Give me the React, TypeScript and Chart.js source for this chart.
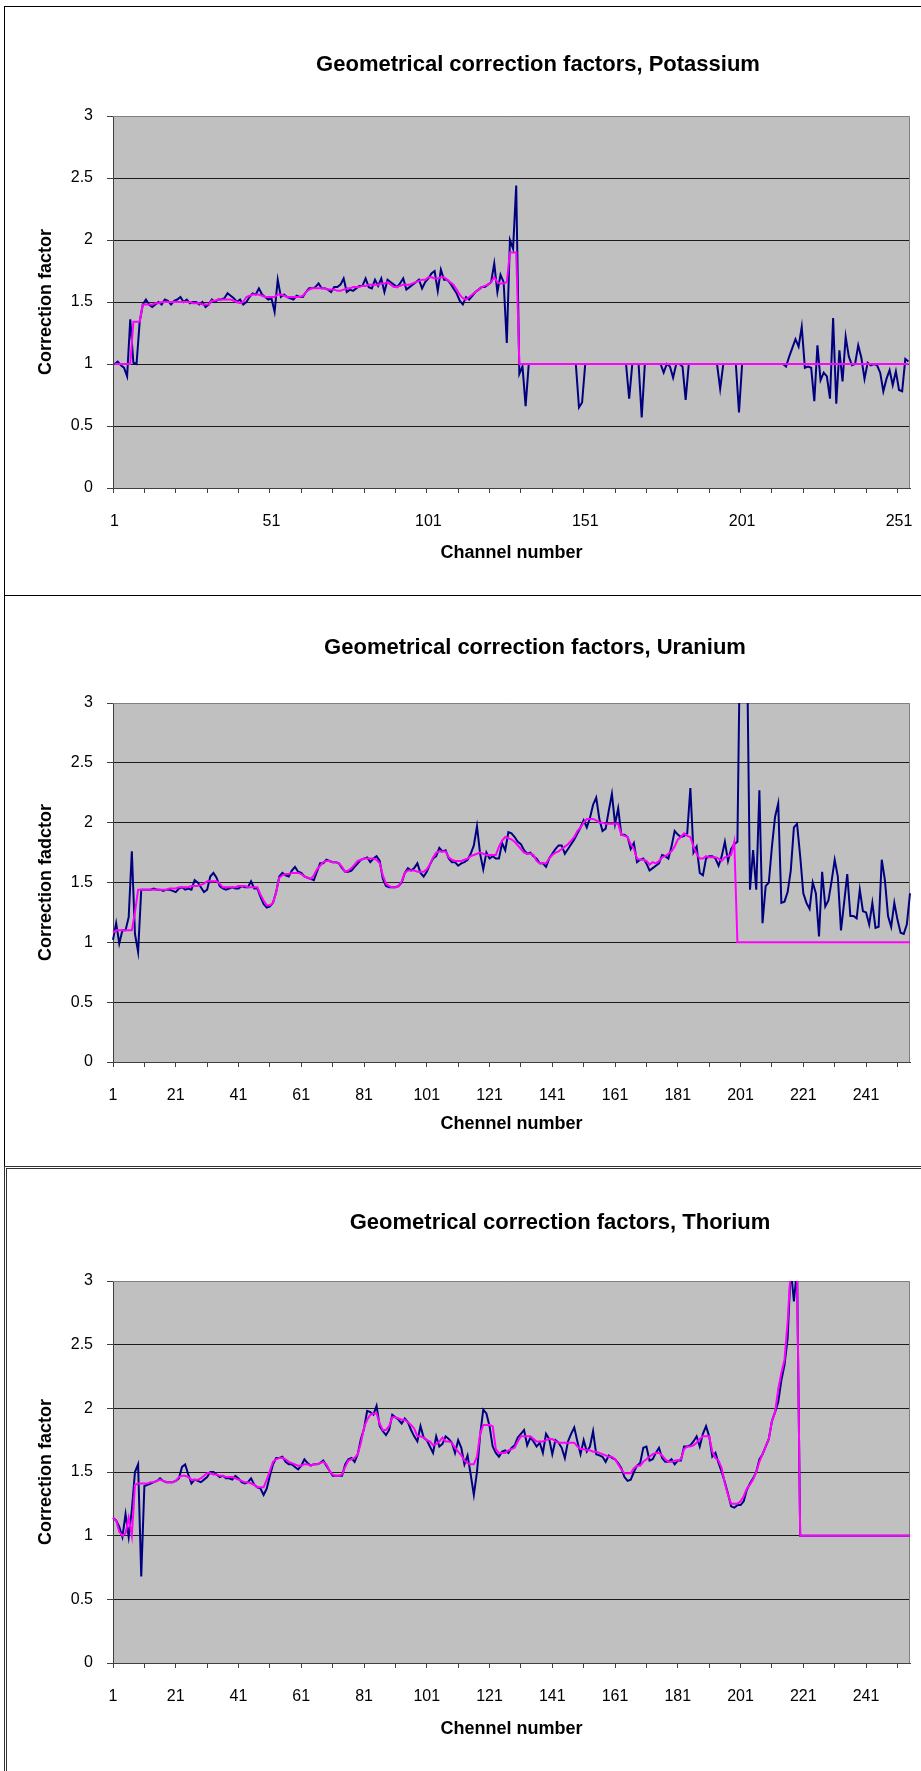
import React, { useEffect, useRef } from "react";
import { Chart, registerables } from "chart.js";

Chart.register(...registerables);

const FONT = "'Liberation Sans', Arial, sans-serif";

// ---- Potassium: measured factors and smoothed curve, channels 1..254 ----
const potassiumMeasured = [
  1.00, 1.02, 0.99, 0.97, 0.90, 1.36, 1.01, 1.00, 1.34, 1.48,
  1.52, 1.48, 1.46, 1.48, 1.50, 1.48, 1.52, 1.51, 1.48, 1.51,
  1.52, 1.54, 1.50, 1.52, 1.49, 1.50, 1.50, 1.48, 1.50, 1.46,
  1.48, 1.52, 1.50, 1.52, 1.52, 1.53, 1.57, 1.55, 1.53, 1.50,
  1.52, 1.48, 1.50, 1.54, 1.57, 1.56, 1.61, 1.56, 1.54, 1.52,
  1.53, 1.42, 1.68, 1.54, 1.56, 1.54, 1.53, 1.52, 1.55, 1.54,
  1.54, 1.58, 1.61, 1.61, 1.62, 1.65, 1.61, 1.61, 1.60, 1.58,
  1.62, 1.62, 1.64, 1.69, 1.58, 1.60, 1.59, 1.61, 1.63, 1.63,
  1.69, 1.62, 1.61, 1.68, 1.63, 1.69, 1.58, 1.68, 1.66, 1.64,
  1.62, 1.65, 1.69, 1.60, 1.62, 1.64, 1.66, 1.68, 1.61, 1.66,
  1.69, 1.73, 1.75, 1.59, 1.76, 1.68, 1.68, 1.65, 1.61, 1.57,
  1.51, 1.48, 1.54, 1.52, 1.55, 1.58, 1.60, 1.62, 1.62, 1.64,
  1.66, 1.81, 1.58, 1.72, 1.66, 1.17, 2.00, 1.93, 2.44, 0.92,
  0.98, 0.66, 1, 1, 1, 1, 1, 1, 1, 1,
  1, 1, 1, 1, 1, 1, 1, 1, 0.65, 0.69,
  1, 1, 1, 1, 1, 1, 1, 1, 1, 1,
  1, 1, 1, 1, 0.72, 1, 1, 1, 0.57, 1,
  1, 1, 1, 1, 1, 0.93, 1, 0.98, 0.89, 1,
  1, 0.98, 0.71, 1, 1, 1, 1, 1, 1, 1,
  1, 1, 1, 0.80, 1, 1, 1, 1, 1, 0.61,
  1, 1, 1, 1, 1, 1, 1, 1, 1, 1,
  1, 1, 1, 1, 0.98, 1.06, 1.13, 1.20, 1.14, 1.30,
  0.97, 0.98, 0.97, 0.70, 1.15, 0.87, 0.93, 0.90, 0.72, 1.37,
  0.68, 1.11, 0.86, 1.22, 1.06, 0.99, 1.00, 1.15, 1.05, 0.88,
  1.01, 0.99, 1.00, 0.99, 0.93, 0.78, 0.88, 0.95, 0.83, 0.94,
  0.79, 0.78, 1.04, 1.02,
];

const potassiumSmoothed = [
  1, 1, 1, 1, 1, 1, 1.34, 1.34, 1.34, 1.48,
  1.48, 1.48, 1.48, 1.49, 1.49, 1.50, 1.50, 1.50, 1.50, 1.50,
  1.50, 1.50, 1.50, 1.50, 1.50, 1.49, 1.49, 1.49, 1.48, 1.48,
  1.48, 1.51, 1.51, 1.52, 1.52, 1.52, 1.52, 1.52, 1.51, 1.50,
  1.49, 1.50, 1.54, 1.55, 1.56, 1.56, 1.56, 1.55, 1.54, 1.54,
  1.54, 1.54, 1.56, 1.56, 1.55, 1.54, 1.54, 1.54, 1.54, 1.54,
  1.55, 1.58, 1.60, 1.61, 1.61, 1.61, 1.61, 1.61, 1.60, 1.60,
  1.60, 1.59, 1.59, 1.60, 1.61, 1.61, 1.62, 1.62, 1.62, 1.63,
  1.63, 1.64, 1.64, 1.64, 1.64, 1.65, 1.65, 1.66, 1.64, 1.62,
  1.62, 1.63, 1.64, 1.64, 1.64, 1.65, 1.66, 1.67, 1.68, 1.68,
  1.70, 1.70, 1.69, 1.69, 1.70, 1.70, 1.68, 1.66, 1.64, 1.60,
  1.56, 1.53, 1.52, 1.54, 1.56, 1.58, 1.60, 1.62, 1.63, 1.64,
  1.66, 1.70, 1.66, 1.65, 1.65, 1.66, 1.90, 1.90, 1.90, 1,
  1, 1, 1, 1, 1, 1, 1, 1, 1, 1,
  1, 1, 1, 1, 1, 1, 1, 1, 1, 1,
  1, 1, 1, 1, 1, 1, 1, 1, 1, 1,
  1, 1, 1, 1, 1, 1, 1, 1, 1, 1,
  1, 1, 1, 1, 1, 1, 1, 1, 1, 1,
  1, 1, 1, 1, 1, 1, 1, 1, 1, 1,
  1, 1, 1, 1, 1, 1, 1, 1, 1, 1,
  1, 1, 1, 1, 1, 1, 1, 1, 1, 1,
  1, 1, 1, 1, 1, 1, 1, 1, 1, 1,
  1, 1, 1, 1, 1, 1, 1, 1, 1, 1,
  1, 1, 1, 1, 1, 1, 1, 1, 1, 1,
  1, 1, 1, 1, 1, 1, 1, 1, 1, 1,
  1, 1, 1, 1,
];

// ---- Uranium: channels 1..255 ----
const uraniumMeasured = [
  1.02, 1.16, 0.99, 1.10, 1.10, 1.21, 1.76, 1.07, 0.92, 1.44,
  1.44, 1.44, 1.44, 1.45, 1.44, 1.44, 1.43, 1.44, 1.44, 1.43,
  1.42, 1.45, 1.46, 1.44, 1.45, 1.44, 1.52, 1.50, 1.46, 1.42,
  1.44, 1.55, 1.58, 1.54, 1.47, 1.45, 1.44, 1.45, 1.46, 1.45,
  1.45, 1.47, 1.46, 1.46, 1.51, 1.45, 1.45, 1.38, 1.32, 1.29,
  1.30, 1.33, 1.42, 1.55, 1.58, 1.56, 1.55, 1.60, 1.63, 1.59,
  1.58, 1.55, 1.54, 1.53, 1.52, 1.59, 1.66, 1.66, 1.69, 1.68,
  1.67, 1.67, 1.66, 1.62, 1.59, 1.59, 1.60, 1.63, 1.66, 1.69,
  1.70, 1.71, 1.67, 1.70, 1.72, 1.68, 1.53, 1.47, 1.46, 1.46,
  1.46, 1.47, 1.50, 1.58, 1.62, 1.60, 1.62, 1.66, 1.58, 1.55,
  1.59, 1.65, 1.70, 1.72, 1.79, 1.76, 1.77, 1.70, 1.67, 1.67,
  1.64, 1.66, 1.67, 1.69, 1.74, 1.81, 1.97, 1.74, 1.61, 1.75,
  1.70, 1.72, 1.70, 1.70, 1.83, 1.77, 1.92, 1.91, 1.88, 1.84,
  1.82, 1.77, 1.74, 1.75, 1.72, 1.70, 1.66, 1.66, 1.63, 1.70,
  1.74, 1.78, 1.81, 1.81, 1.74, 1.78, 1.82, 1.86, 1.91, 1.96,
  2.02, 1.96, 2.04, 2.15, 2.21, 2.03, 1.93, 1.95, 2.10, 2.24,
  1.99, 2.12, 1.90, 1.90, 1.88, 1.78, 1.83, 1.67, 1.69, 1.70,
  1.66, 1.60, 1.62, 1.64, 1.66, 1.73, 1.72, 1.70, 1.80, 1.93,
  1.90, 1.88, 1.89, 1.91, 2.29, 1.75, 1.80, 1.58, 1.56, 1.70,
  1.72, 1.72, 1.70, 1.64, 1.72, 1.84, 1.68, 1.78, 1.82, 1.84,
  3.90, 4.20, 3.60, 1.44, 1.77, 1.44, 2.27, 1.16, 1.47, 1.50,
  1.80, 2.05, 2.16, 1.33, 1.34, 1.42, 1.60, 1.96, 1.99, 1.72,
  1.41, 1.33, 1.28, 1.50, 1.41, 1.05, 1.59, 1.30, 1.35, 1.51,
  1.69, 1.55, 1.10, 1.33, 1.57, 1.22, 1.22, 1.20, 1.44, 1.26,
  1.25, 1.15, 1.33, 1.12, 1.13, 1.69, 1.52, 1.22, 1.13, 1.33,
  1.19, 1.08, 1.07, 1.15, 1.41,
];

const uraniumSmoothed = [
  1.08, 1.10, 1.10, 1.10, 1.10, 1.10, 1.10, 1.25, 1.44, 1.44,
  1.44, 1.44, 1.44, 1.44, 1.44, 1.44, 1.44, 1.44, 1.45, 1.45,
  1.45, 1.46, 1.46, 1.46, 1.46, 1.47, 1.47, 1.47, 1.48, 1.49,
  1.51, 1.51, 1.51, 1.51, 1.49, 1.46, 1.46, 1.46, 1.46, 1.46,
  1.47, 1.47, 1.47, 1.46, 1.46, 1.46, 1.46, 1.40, 1.35, 1.31,
  1.31, 1.33, 1.42, 1.54, 1.56, 1.57, 1.57, 1.58, 1.58, 1.58,
  1.57, 1.55, 1.54, 1.53, 1.56, 1.61, 1.64, 1.67, 1.68, 1.68,
  1.67, 1.67, 1.66, 1.63, 1.59, 1.60, 1.62, 1.65, 1.68, 1.69,
  1.70, 1.70, 1.70, 1.70, 1.69, 1.66, 1.56, 1.49, 1.47, 1.46,
  1.46, 1.47, 1.51, 1.58, 1.60, 1.60, 1.60, 1.59, 1.59, 1.59,
  1.61, 1.65, 1.71, 1.75, 1.76, 1.76, 1.76, 1.71, 1.69, 1.68,
  1.68, 1.68, 1.69, 1.70, 1.72, 1.73, 1.74, 1.75, 1.74, 1.73,
  1.73, 1.73, 1.73, 1.80, 1.85, 1.88, 1.87, 1.86, 1.84, 1.81,
  1.78, 1.75, 1.74, 1.74, 1.73, 1.68, 1.66, 1.66, 1.66, 1.70,
  1.73, 1.75, 1.76, 1.78, 1.80, 1.82, 1.85, 1.88, 1.93, 1.96,
  2.00, 2.03, 2.03, 2.03, 2.02, 2.00, 2.00, 1.99, 1.99, 1.99,
  1.99, 1.99, 1.90, 1.89, 1.88, 1.82, 1.78, 1.70, 1.69, 1.69,
  1.68, 1.65, 1.67, 1.66, 1.68, 1.71, 1.72, 1.74, 1.76, 1.80,
  1.86, 1.88, 1.91, 1.89, 1.88, 1.80, 1.74, 1.70, 1.70, 1.72,
  1.71, 1.71, 1.71, 1.70, 1.68, 1.71, 1.72, 1.73, 1.84, 1,
  1, 1, 1, 1, 1, 1, 1, 1, 1, 1,
  1, 1, 1, 1, 1, 1, 1, 1, 1, 1,
  1, 1, 1, 1, 1, 1, 1, 1, 1, 1,
  1, 1, 1, 1, 1, 1, 1, 1, 1, 1,
  1, 1, 1, 1, 1, 1, 1, 1, 1, 1,
  1, 1, 1, 1, 1,
];

// ---- Thorium: channels 1..255 ----
const thoriumMeasured = [
  1.14, 1.12, 1.07, 0.99, 1.17, 0.99, 1.20, 1.50, 1.56, 0.68,
  1.39, 1.40, 1.41, 1.42, 1.43, 1.45, 1.43, 1.42, 1.42, 1.42,
  1.43, 1.45, 1.54, 1.56, 1.48, 1.41, 1.44, 1.43, 1.42, 1.44,
  1.46, 1.50, 1.50, 1.48, 1.46, 1.47, 1.45, 1.45, 1.44, 1.47,
  1.45, 1.42, 1.41, 1.42, 1.45, 1.40, 1.38, 1.37, 1.32, 1.37,
  1.47, 1.56, 1.61, 1.61, 1.62, 1.58, 1.56, 1.56, 1.54, 1.52,
  1.55, 1.60, 1.57, 1.55, 1.56, 1.56, 1.57, 1.59, 1.55, 1.51,
  1.47, 1.47, 1.47, 1.47, 1.56, 1.60, 1.61, 1.58, 1.64, 1.76,
  1.84, 1.98, 1.97, 1.95, 2.02, 1.86, 1.82, 1.79, 1.83, 1.95,
  1.93, 1.91, 1.88, 1.92, 1.89, 1.83, 1.78, 1.74, 1.86, 1.77,
  1.75, 1.70, 1.65, 1.78, 1.70, 1.72, 1.78, 1.76, 1.73, 1.65,
  1.75, 1.69, 1.56, 1.63, 1.48, 1.32, 1.50, 1.79, 1.99, 1.96,
  1.86, 1.70, 1.65, 1.62, 1.66, 1.67, 1.65, 1.69, 1.71, 1.77,
  1.80, 1.83, 1.71, 1.77, 1.74, 1.70, 1.73, 1.65, 1.80, 1.76,
  1.64, 1.75, 1.73, 1.69, 1.61, 1.74, 1.80, 1.85, 1.74, 1.64,
  1.75, 1.66, 1.70, 1.82, 1.64, 1.63, 1.62, 1.58, 1.63, 1.61,
  1.60, 1.57, 1.53, 1.46, 1.43, 1.44, 1.50, 1.55, 1.57, 1.69,
  1.70, 1.59, 1.60, 1.65, 1.69, 1.61, 1.58, 1.58, 1.60, 1.56,
  1.59, 1.59, 1.70, 1.70, 1.71, 1.74, 1.78, 1.70, 1.80, 1.86,
  1.78, 1.62, 1.65, 1.57, 1.50, 1.42, 1.33, 1.23, 1.22, 1.24,
  1.24, 1.27, 1.36, 1.41, 1.45, 1.50, 1.60, 1.64, 1.70, 1.76,
  1.90, 1.97, 2.05, 2.22, 2.34, 2.55, 3.10, 2.84, 3.10, 1,
  1, 1, 1, 1, 1, 1, 1, 1, 1, 1,
  1, 1, 1, 1, 1, 1, 1, 1, 1, 1,
  1, 1, 1, 1, 1, 1, 1, 1, 1, 1,
  1, 1, 1, 1, 1,
];

const thoriumSmoothed = [
  1.14, 1.12, 1.03, 1.00, 1.02, 1.14, 1.00, 1.40, 1.41, 1.41,
  1.41, 1.41, 1.42, 1.42, 1.43, 1.44, 1.43, 1.42, 1.42, 1.42,
  1.43, 1.46, 1.47, 1.47, 1.46, 1.44, 1.44, 1.44, 1.45, 1.47,
  1.49, 1.49, 1.48, 1.48, 1.47, 1.47, 1.46, 1.46, 1.46, 1.45,
  1.44, 1.43, 1.42, 1.42, 1.41, 1.40, 1.38, 1.38, 1.38, 1.44,
  1.51, 1.58, 1.60, 1.61, 1.61, 1.60, 1.58, 1.57, 1.56, 1.55,
  1.55, 1.56, 1.56, 1.55, 1.56, 1.56, 1.57, 1.58, 1.56, 1.51,
  1.48, 1.47, 1.47, 1.48, 1.54, 1.59, 1.60, 1.61, 1.64, 1.73,
  1.85, 1.91, 1.95, 1.96, 1.96, 1.88, 1.83, 1.83, 1.86, 1.93,
  1.93, 1.92, 1.91, 1.91, 1.89, 1.87, 1.84, 1.78, 1.78, 1.77,
  1.75, 1.74, 1.71, 1.72, 1.74, 1.77, 1.74, 1.74, 1.73, 1.69,
  1.66, 1.63, 1.59, 1.57, 1.56, 1.56, 1.62, 1.80, 1.87, 1.87,
  1.87, 1.86, 1.68, 1.65, 1.65, 1.65, 1.67, 1.68, 1.69, 1.74,
  1.78, 1.78, 1.78, 1.78, 1.76, 1.74, 1.74, 1.74, 1.75, 1.76,
  1.76, 1.74, 1.73, 1.73, 1.73, 1.73, 1.73, 1.73, 1.70, 1.68,
  1.68, 1.67, 1.67, 1.66, 1.66, 1.65, 1.64, 1.63, 1.62, 1.62,
  1.60, 1.56, 1.52, 1.49, 1.49, 1.49, 1.53, 1.55, 1.55, 1.58,
  1.60, 1.62, 1.64, 1.65, 1.65, 1.63, 1.60, 1.58, 1.58, 1.59,
  1.59, 1.60, 1.68, 1.70, 1.70, 1.71, 1.73, 1.76, 1.78, 1.78,
  1.78, 1.66, 1.61, 1.59, 1.53, 1.41, 1.32, 1.25, 1.25, 1.25,
  1.27, 1.31, 1.37, 1.40, 1.44, 1.50, 1.58, 1.64, 1.70, 1.76,
  1.90, 1.97, 2.15, 2.28, 2.38, 2.68, 3.10, 3.10, 3.10, 1,
  1, 1, 1, 1, 1, 1, 1, 1, 1, 1,
  1, 1, 1, 1, 1, 1, 1, 1, 1, 1,
  1, 1, 1, 1, 1, 1, 1, 1, 1, 1,
  1, 1, 1, 1, 1,
];

// Axis tick labels
const potassiumTickLabels = ["1", "51", "101", "151", "201", "251"];
const channelTickLabels = ["1", "21", "41", "61", "81", "101", "121", "141", "161", "181", "201", "221", "241"];
const tickMarkEvery = 10;
const yTickValues = [0, 0.5, 1, 1.5, 2, 2.5, 3];
const yTickLabels = ["0", "0.5", "1", "1.5", "2", "2.5", "3"];

const channelsFor = (series: number[]) => series.map((_, i) => String(i + 1));

// Grey plot area with its frame, drawn beneath the data lines
const plotFrame = {
  id: "plotFrame",
  beforeDraw(chart: any) {
    const { ctx, chartArea: a } = chart;
    ctx.save();
    ctx.fillStyle = "#C0C0C0";
    ctx.fillRect(a.left, a.top, a.right - a.left, a.bottom - a.top);
    ctx.restore();
  },
  beforeDatasetsDraw(chart: any) {
    const { ctx, chartArea: a } = chart;
    ctx.save();
    ctx.strokeStyle = "#808080";
    ctx.lineWidth = 1;
    ctx.beginPath();
    ctx.moveTo(a.left, Math.round(a.top) + 0.5);
    ctx.lineTo(Math.round(a.right) - 0.5, Math.round(a.top) + 0.5);
    ctx.lineTo(Math.round(a.right) - 0.5, a.bottom);
    ctx.stroke();
    ctx.restore();
  },
};

// Chart heading
const panelTitle = {
  id: "panelTitle",
  afterDraw(chart: any, _args: any, opts: any) {
    const { ctx } = chart;
    ctx.save();
    ctx.font = `bold ${opts.size}px ${FONT}`;
    ctx.fillStyle = "#000";
    ctx.textAlign = "center";
    ctx.textBaseline = "middle";
    ctx.fillText(opts.text, opts.x, opts.y);
    ctx.restore();
  },
};

type PanelSpec = {
  top: number;
  height: number;
  plotTop: number;
  plotBottom: number;
  title: string;
  titleX: number;
  titleY: number;
  xTitle: string;
  yTitle: string;
  measured: number[];
  smoothed: number[];
  tickLabels: string[];
  betweenTicks: boolean;
};

const panels: PanelSpec[] = [
  {
    top: 0, height: 595, plotTop: 116, plotBottom: 488,
    title: "Geometrical correction factors, Potassium", titleX: 538, titleY: 65,
    xTitle: "Channel number", yTitle: "Correction factor",
    measured: potassiumMeasured, smoothed: potassiumSmoothed,
    tickLabels: potassiumTickLabels, betweenTicks: true,
  },
  {
    top: 595, height: 571, plotTop: 108, plotBottom: 467,
    title: "Geometrical correction factors, Uranium", titleX: 535, titleY: 53,
    xTitle: "Chennel number", yTitle: "Correction fadctor",
    measured: uraniumMeasured, smoothed: uraniumSmoothed,
    tickLabels: channelTickLabels, betweenTicks: false,
  },
  {
    top: 1166, height: 605, plotTop: 115, plotBottom: 497,
    title: "Geometrical correction factors, Thorium", titleX: 560, titleY: 57,
    xTitle: "Chennel number", yTitle: "Correction factor",
    measured: thoriumMeasured, smoothed: thoriumSmoothed,
    tickLabels: channelTickLabels, betweenTicks: false,
  },
];

const WIDTH = 921;

function Panel({ spec }: { spec: PanelSpec }) {
  const ref = useRef<HTMLCanvasElement | null>(null);

  useEffect(() => {
    if (!ref.current) return;
    const labels = channelsFor(spec.measured);
    const markColor = (ctx: any) =>
      ctx.index !== undefined && ctx.index % tickMarkEvery === 0 ? "#404040" : "rgba(0,0,0,0)";

    const chart = new Chart(ref.current, {
      type: "line",
      data: {
        labels,
        datasets: [
          {
            data: spec.smoothed,
            borderColor: "#FF00FF",
            borderWidth: 2,
            pointRadius: 0,
            tension: 0,
            order: 1,
          },
          {
            data: spec.measured,
            borderColor: "#000080",
            borderWidth: 2,
            pointRadius: 0,
            tension: 0,
            order: 2,
          },
        ],
      },
      options: {
        animation: false,
        responsive: false,
        devicePixelRatio: 1,
        events: [],
        layout: { padding: { top: spec.plotTop, left: 0, right: 11, bottom: 0 } },
        plugins: {
          legend: { display: false },
          tooltip: { enabled: false },
          title: { display: false },
          panelTitle: { text: spec.title, x: spec.titleX, y: spec.titleY, size: 22 },
        } as any,
        scales: {
          x: {
            type: "category",
            offset: spec.betweenTicks,
            grid: {
              offset: spec.betweenTicks,
              drawOnChartArea: false,
              drawTicks: true,
              tickLength: 5,
              color: markColor,
              tickColor: markColor,
              lineWidth: 1,
            },
            border: { display: true, color: "#404040", width: 1 },
            ticks: {
              autoSkip: false,
              maxRotation: 0,
              minRotation: 0,
              padding: 19,
              color: "#000",
              font: { family: FONT, size: 16 },
              callback: (_v: any, i: number) =>
                spec.tickLabels.includes(labels[i]) ? labels[i] : "",
            },
            title: {
              display: true,
              text: spec.xTitle,
              color: "#000",
              font: { family: FONT, size: 18, weight: "bold" },
              padding: { top: 0, bottom: 31 },
            },
            afterFit: (scale: any) => {
              scale.height = spec.height - spec.plotBottom;
              // keep the plot's right edge fixed regardless of label padding
              scale.paddingLeft = 0;
              scale.paddingRight = 0;
            },
          },
          y: {
            min: 0,
            max: 3,
            afterBuildTicks: (scale: any) => {
              scale.ticks = yTickValues.map((v) => ({ value: v }));
            },
            grid: {
              color: (ctx: any) =>
                ctx.tick && ctx.tick.value === 3 ? "rgba(0,0,0,0)" : "#1a1a1a",
              tickColor: "#404040",
              drawTicks: true,
              tickLength: 6,
              lineWidth: 1,
            },
            border: { display: true, color: "#404040", width: 1 },
            ticks: {
              padding: 14,
              color: "#000",
              font: { family: FONT, size: 16 },
              callback: (v: any) => yTickLabels[yTickValues.indexOf(Number(v))],
            },
            title: {
              display: true,
              text: spec.yTitle,
              color: "#000",
              font: { family: FONT, size: 18, weight: "bold" },
              padding: { top: 35, bottom: 0 },
            },
            afterFit: (scale: any) => {
              scale.width = 113;
            },
          },
        },
      } as any,
      plugins: [plotFrame, panelTitle],
    });

    return () => chart.destroy();
  }, [spec]);

  return (
    <canvas
      ref={ref}
      width={WIDTH}
      height={spec.height}
      style={{ position: "absolute", left: 0, top: spec.top, display: "block" }}
    />
  );
}

export default function App() {
  return (
    <div
      style={{
        position: "absolute",
        left: 0,
        top: 0,
        width: WIDTH,
        height: 1771,
        overflow: "hidden",
        background: "#fff",
      }}
    >
      <div style={{ position: "absolute", left: 4, top: 6, width: 1000, height: 590, border: "1px solid #000", boxSizing: "border-box" }} />
      <div style={{ position: "absolute", left: 4, top: 595, width: 1000, height: 572, border: "1px solid #000", boxSizing: "border-box" }} />
      <div style={{ position: "absolute", left: 4, top: 1166, width: 1000, height: 700, border: "3px double #333", boxSizing: "border-box" }} />
      {panels.map((p, i) => (
        <Panel key={i} spec={p} />
      ))}
    </div>
  );
}
